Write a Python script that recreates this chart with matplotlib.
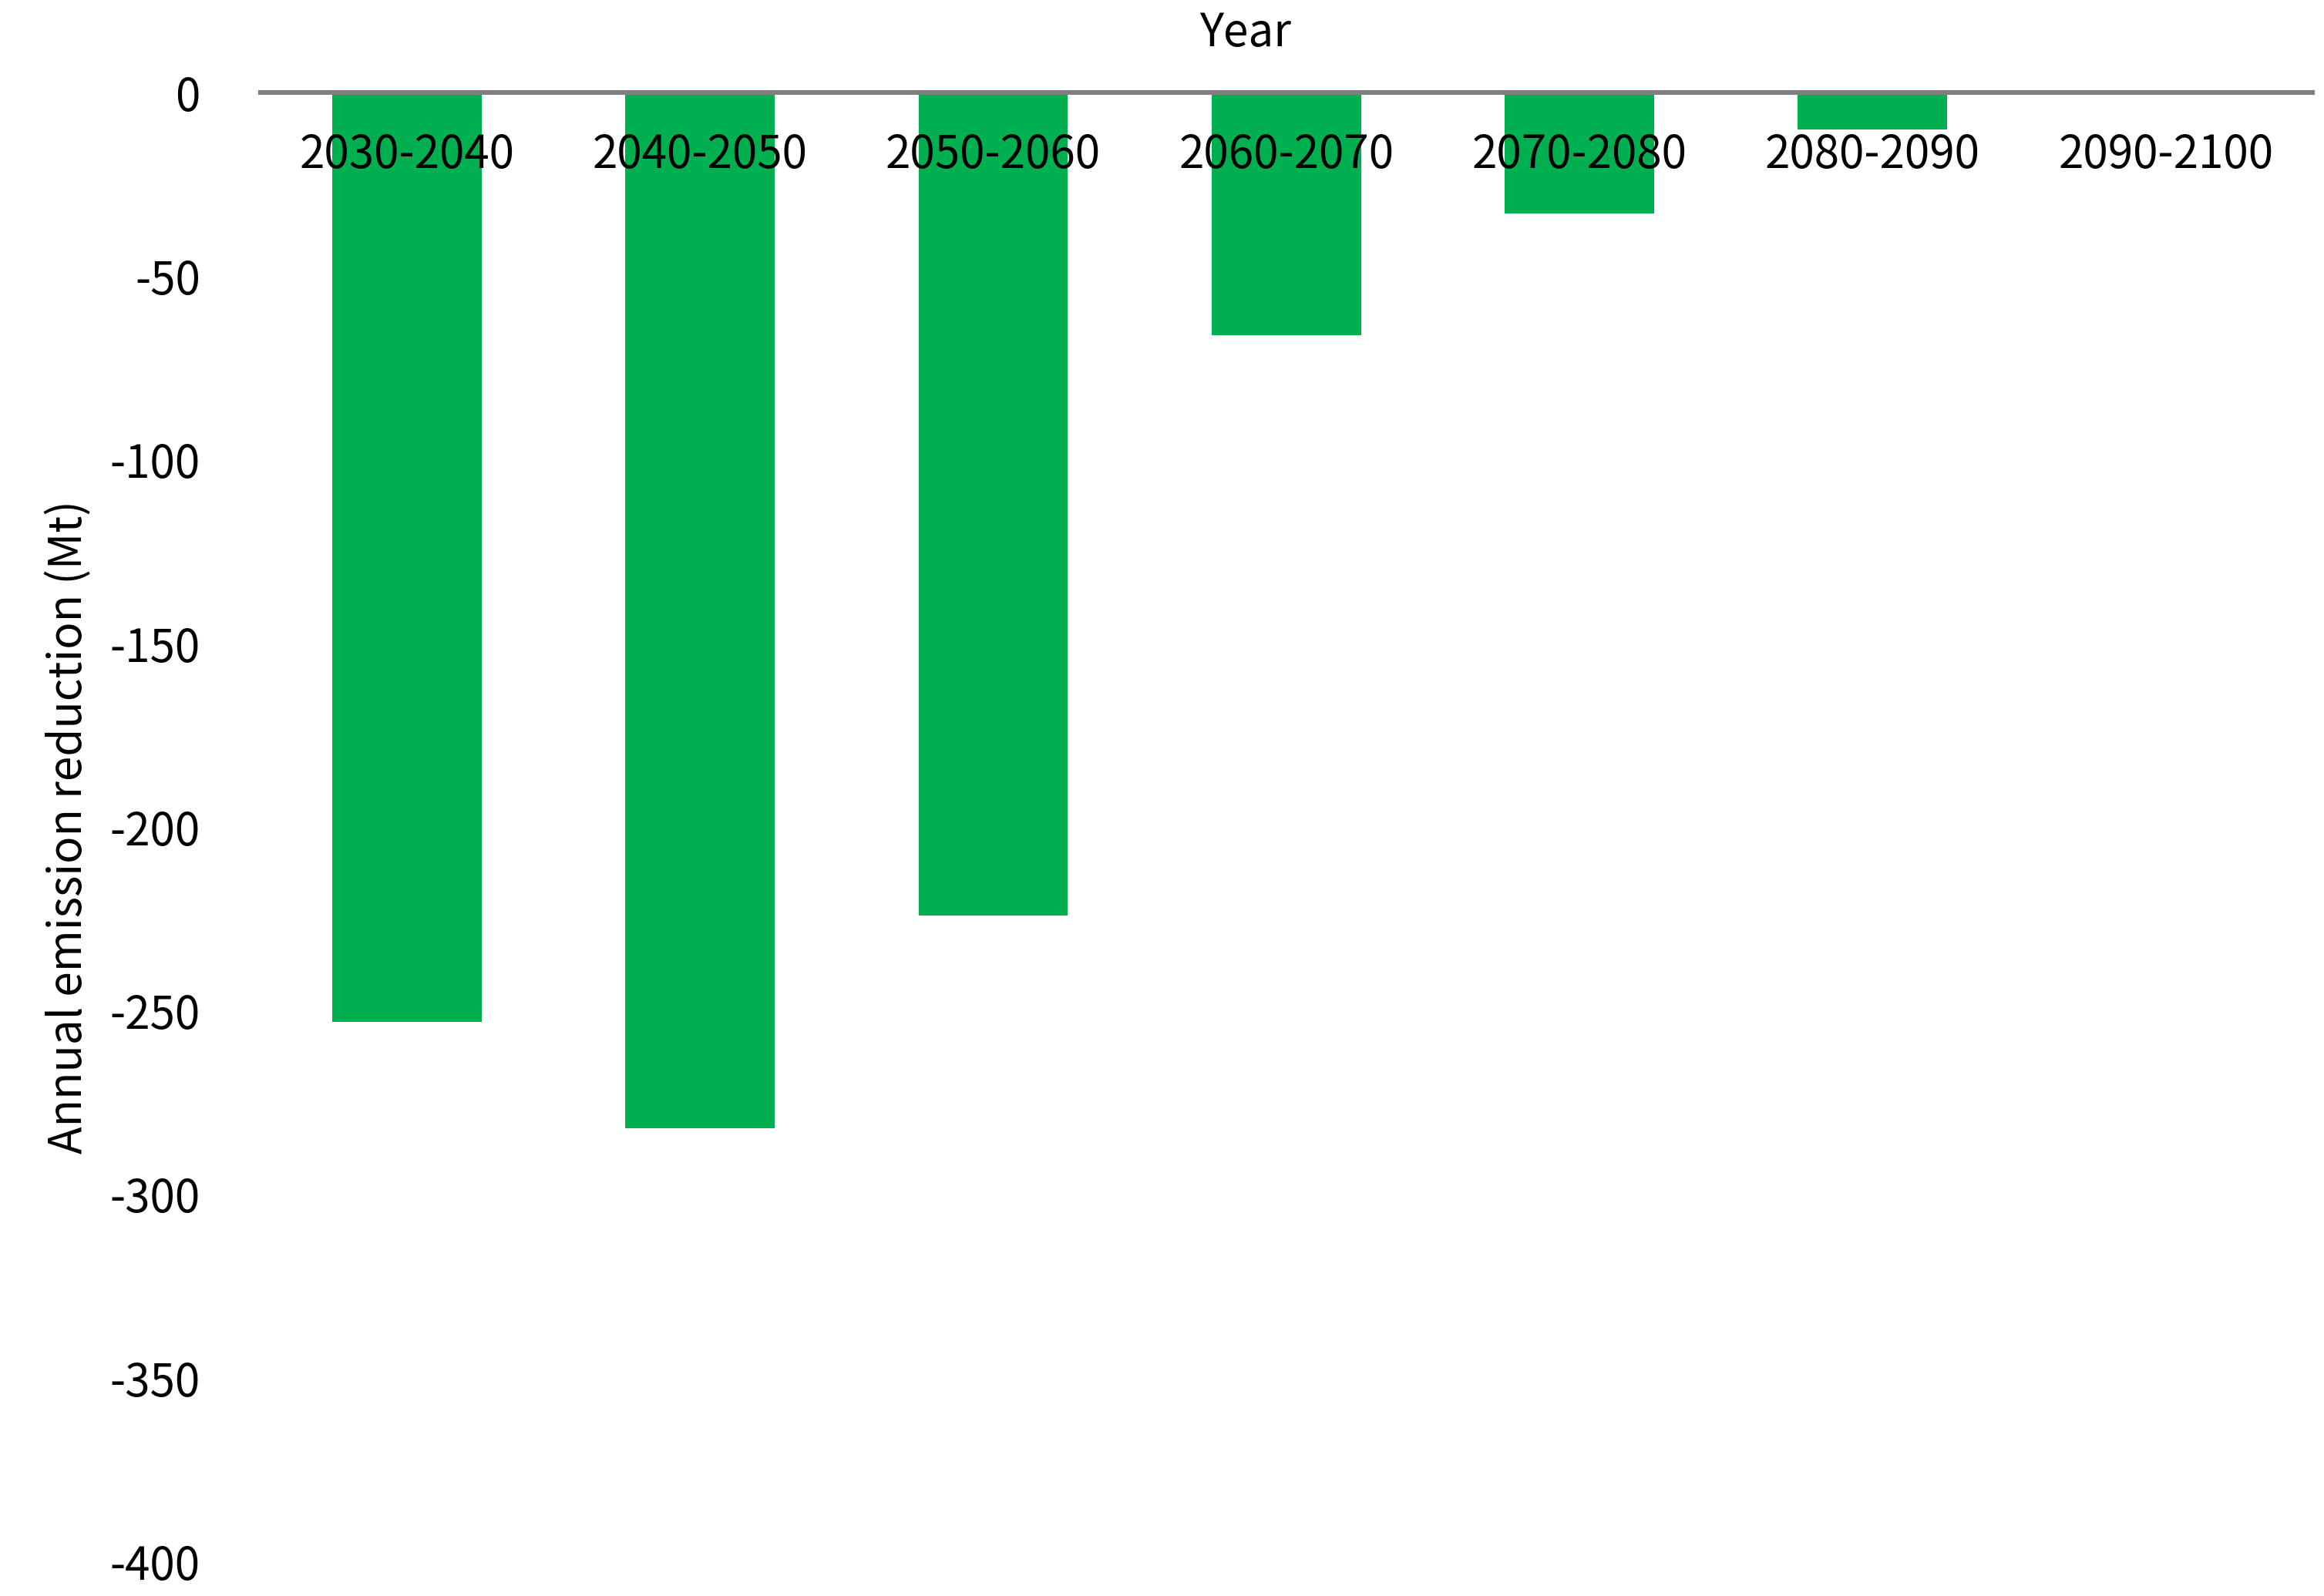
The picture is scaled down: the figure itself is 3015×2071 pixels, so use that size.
import matplotlib
matplotlib.use("Agg")
import matplotlib.pyplot as plt

categories = ["2030-2040", "2040-2050", "2050-2060", "2060-2070", "2070-2080", "2080-2090", "2090-2100"]
values = [-253, -282, -224, -66, -33, -10, 0]
yticks = [0, -50, -100, -150, -200, -250, -300, -350, -400]

plt.rcParams['font.family'] = ['Noto Sans CJK SC', 'DejaVu Sans']
fig = plt.figure(figsize=(15.075, 10.355), dpi=200)
ax = fig.add_axes([0.112, 0.0215, 0.883, 0.9205])
x = list(range(len(categories)))
ax.bar(x, values, width=0.51, color='#00AF50', zorder=2)
ax.set_xlim(-0.5, len(categories) - 0.5)
ax.set_ylim(-400, 0)
for s in ax.spines.values():
    s.set_visible(False)
ax.axhline(0, color='#7f7f7f', lw=2.2, zorder=3, clip_on=False)
ax.set_xticks([])
ax.set_yticks(yticks)
ax.set_yticklabels([str(v) for v in yticks], fontsize=21, fontweight='light')
ax.tick_params(axis='y', length=0, pad=28)
for i, c in enumerate(categories):
    ax.text(i, -17, c, ha='center', va='center', fontsize=21, fontweight='light', zorder=4)
ax.text(0.48, 1.04, "Year", transform=ax.transAxes, ha='center', va='center', fontsize=21, fontweight='light')
ax.set_ylabel("Annual emission reduction (Mt)", fontsize=21, fontweight='light', labelpad=8)
fig.savefig("out.png", dpi=200)
